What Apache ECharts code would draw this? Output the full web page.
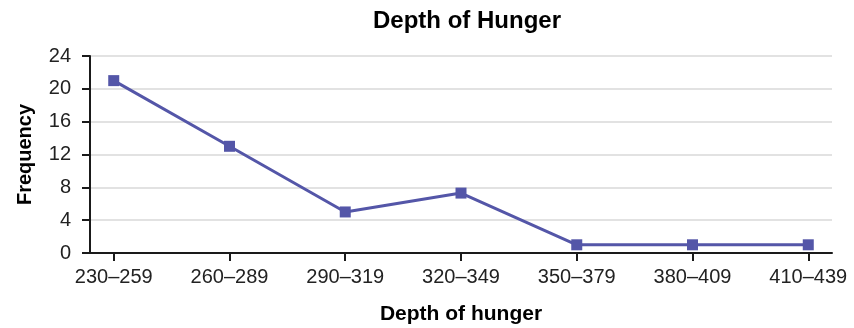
<!DOCTYPE html>
<html>
<head>
<meta charset="utf-8">
<script src="https://cdn.jsdelivr.net/npm/echarts@6/dist/echarts.min.js"></script>
<style>html,body{margin:0;padding:0;background:#fff}#c{width:854px;height:328px}</style>
</head>
<body>
<div id="c"></div>
<script>
const categories = ['230–259','260–289','290–319','320–349','350–379','380–409','410–439'];
const frequency = [21, 13, 5, 7.3, 1, 1, 1];
const yTicks = [0, 4, 8, 12, 16, 20, 24];

const chart = echarts.init(document.getElementById('c'), null, {renderer: 'canvas'});
const font = 'Liberation Sans, Arial, sans-serif';
const idx = categories.map((c, i) => i);
chart.setOption({
  animation: false,
  title: {
    text: 'Depth of Hunger',
    left: 462, top: 4, textAlign: 'center',
    textStyle: {fontFamily: font, fontWeight: 'bold', fontSize: 24, color: '#000'}
  },
  grid: {left: 90, right: 22, top: 56, bottom: 75, outerBoundsMode: 'none'},
  xAxis: {
    type: 'value', min: -0.205, max: 6.205,
    name: 'Depth of hunger', nameLocation: 'middle', nameGap: 51,
    nameTextStyle: {fontFamily: font, fontWeight: 'bold', fontSize: 21, color: '#000'},
    axisLine: {show: true, onZero: false, lineStyle: {color: '#1a1a1a', width: 2}},
    axisTick: {show: true, customValues: idx, length: 8, lineStyle: {color: '#1a1a1a', width: 2}},
    axisLabel: {customValues: idx, formatter: v => categories[Math.round(v)], margin: 14,
      fontFamily: font, fontSize: 20, color: '#222'},
    splitLine: {show: false}
  },
  yAxis: {
    type: 'value', min: 0, max: 24, interval: 4,
    name: 'Frequency', nameLocation: 'middle', nameGap: 55, nameRotate: 90,
    nameTextStyle: {fontFamily: font, fontWeight: 'bold', fontSize: 20, color: '#000'},
    axisLine: {show: true, onZero: false, lineStyle: {color: '#1a1a1a', width: 2}},
    axisTick: {show: true, length: 8, lineStyle: {color: '#1a1a1a', width: 2}},
    axisLabel: {margin: 19, fontFamily: font, fontSize: 20, color: '#222',
      formatter: v => yTicks.includes(v) ? String(v) : ''},
    splitLine: {show: true, lineStyle: {color: '#d9d9d9', width: 1.5}}
  },
  series: [{
    type: 'line',
    data: frequency.map((v, i) => [i, v]),
    symbol: 'rect', symbolSize: 11,
    lineStyle: {color: '#5456a8', width: 3},
    itemStyle: {color: '#5456a8'}
  }]
});
</script>
</body>
</html>
